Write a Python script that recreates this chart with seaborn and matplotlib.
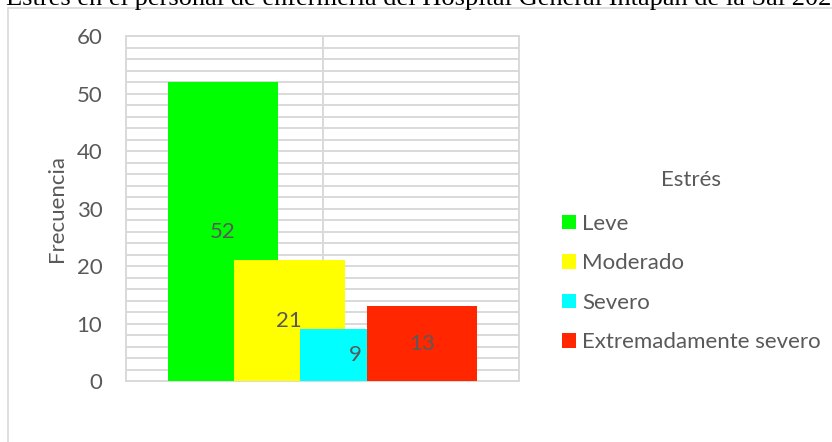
import matplotlib
matplotlib.use("Agg")
import matplotlib.pyplot as plt
from matplotlib.lines import Line2D
from matplotlib.patches import Patch
from matplotlib.ticker import MultipleLocator
import pandas as pd
import seaborn as sns

# Data
niveles = ["Leve", "Moderado", "Severo", "Extremadamente severo"]
frecuencias = [52, 21, 9, 13]
colores = ["#00FF00", "#FFFF00", "#00FFFF", "#FF2600"]
titulo = "Estrés en el personal de enfermería del Hospital General Intapán de la Sal 2022"

sns.set_style("white")
plt.rcParams["font.family"] = ["Lato", "DejaVu Sans"]

TXT = "#595959"
GRID = "#D9D9D9"
FS = 16

df = pd.DataFrame({"grupo": [""] * len(niveles), "Estrés": niveles, "Frecuencia": frecuencias})

fig = plt.figure(figsize=(8.32, 4.42), dpi=100)
ax = fig.add_axes([126 / 832, 1 - 381 / 442, 393 / 832, 345 / 442])

sns.barplot(data=df, x="grupo", y="Frecuencia", hue="Estrés", hue_order=niveles,
            palette=colores, saturation=1, dodge=True, legend=False, ax=ax,
            linewidth=0, zorder=3)

# Overlapping clustered bars (overlap 40 %, gap width 75 %)
overlap, gap = 0.40, 0.75
n = len(niveles)
w = 1.0 / ((1 + (n - 1) * (1 - overlap)) + gap)
step = w * (1 - overlap)
start = -(w + (n - 1) * step) / 2
for i, bar in enumerate(ax.patches[:n]):
    bar.set_x(start + i * step)
    bar.set_width(w)
    h = bar.get_height()
    ax.text(bar.get_x() + w / 2, h / 2, f"{h:.0f}", ha="center", va="center",
            color=TXT, fontsize=FS, zorder=5)

ax.set_xlim(-0.5, 0.5)
ax.set_ylim(0, 60)
ax.yaxis.set_major_locator(MultipleLocator(10))
ax.yaxis.set_minor_locator(MultipleLocator(2))
ax.set_xticks([0])
ax.set_xticklabels([])
ax.grid(True, which="both", axis="y", color=GRID, linewidth=1.4, zorder=0)
ax.grid(True, which="major", axis="x", color=GRID, linewidth=1.4, zorder=0)
ax.set_axisbelow(True)
ax.tick_params(axis="both", which="both", length=0)
ax.tick_params(axis="y", labelsize=FS, labelcolor=TXT, pad=17)
for s in ax.spines.values():
    s.set_color(GRID)
    s.set_linewidth(1.4)
ax.set_xlabel("")
ax.set_ylabel("Frecuencia", fontsize=FS, color=TXT)
ax.yaxis.set_label_coords(-0.149, 0.5)

# Legend
handles = [Patch(facecolor=c, edgecolor="none") for c in colores]
leg = fig.legend(handles, niveles, title="Estrés", loc="upper left",
                 bbox_to_anchor=(562 / 832, 1 - 170 / 442), frameon=False,
                 fontsize=FS, title_fontsize=FS, handlelength=0.63, handleheight=0.63,
                 handletextpad=0.27, labelspacing=0.88, borderpad=0, borderaxespad=0)
leg._legend_box.sep = 17
leg.get_title().set_color(TXT)
for t in leg.get_texts():
    t.set_color(TXT)

# Outer chart frame
fig.add_artist(Line2D([8 / 832, 1.0], [1 - 8 / 442] * 2, transform=fig.transFigure,
                      color=GRID, linewidth=1.2))
fig.add_artist(Line2D([8 / 832] * 2, [0.0, 1 - 8 / 442], transform=fig.transFigure,
                      color=GRID, linewidth=1.2))

# Heading above the frame
fig.text(6 / 832, 1 - 5 / 442, titulo, ha="left", va="baseline",
         family=["Liberation Serif", "DejaVu Serif"], fontsize=19, color="black")

fig.savefig("out.png", dpi=100)
